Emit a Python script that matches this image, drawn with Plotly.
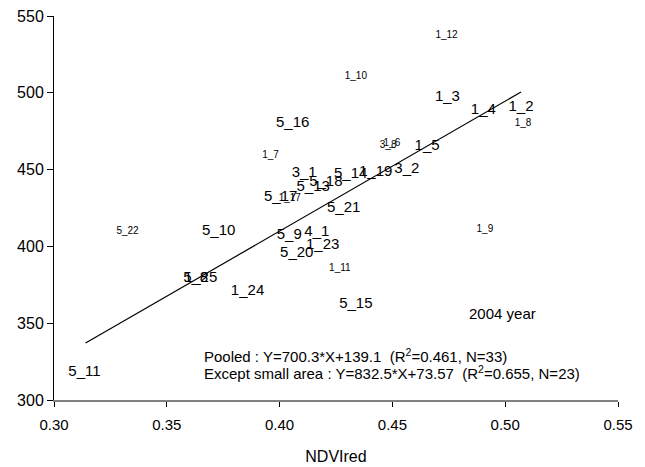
import plotly.graph_objects as go

FONT = "Liberation Sans, Arial, sans-serif"

# Large labels (sites other than small areas)
big_labels = ["1_3", "1_4", "1_2", "5_16", "1_5", "3_1", "5_14", "1_19", "3_2",
              "5_13", "5_18", "5_17", "5_21", "5_10", "5_9", "4_1", "1_23",
              "5_20", "5_8", "1_25", "1_24", "5_15", "5_11"]
big_x = [0.4744, 0.4903, 0.5070, 0.4058, 0.4654, 0.4109, 0.4315, 0.4426, 0.4564,
         0.4149, 0.4205, 0.4005, 0.4284, 0.3730, 0.4043, 0.4165, 0.4191,
         0.4076, 0.3628, 0.3650, 0.3858, 0.4338, 0.3135]
big_y = [496.8, 488.8, 490.8, 480.3, 465.4, 447.8, 447.1, 448.4, 450.4,
         438.7, 441.9, 432.2, 425.0, 410.0, 407.4, 409.4, 400.9,
         395.7, 379.4, 379.4, 371.0, 362.5, 318.2]

# Small labels (small areas)
small_labels = ["1_12", "1_10", "1_8", "3_8", "1_6", "1_7", "1_17", "5_22", "1_9", "1_11"]
small_x = [0.4740, 0.4338, 0.5079, 0.4481, 0.4498, 0.3960, 0.4045, 0.3326, 0.4910, 0.4267]
small_y = [537.6, 510.3, 480.3, 465.4, 466.7, 459.5, 431.5, 410.0, 410.7, 385.3]

# Regression line end points
line_x = [0.3140, 0.5070]
line_y = [337.1, 500.5]

x_ticks = [0.30, 0.35, 0.40, 0.45, 0.50, 0.55]
x_tick_labels = ["0.30", "0.35", "0.40", "0.45", "0.50", "0.55"]
y_ticks = [300, 350, 400, 450, 500, 550]

fig = go.Figure()
fig.add_trace(go.Scatter(x=line_x, y=line_y, mode="lines", xaxis="x2", yaxis="y",
                         line=dict(color="black", width=1.2), showlegend=False,
                         hoverinfo="skip"))
fig.add_trace(go.Scatter(x=big_x, y=big_y, text=big_labels, mode="text",
                         textposition="middle center",
                         textfont=dict(family=FONT, size=15, color="black"),
                         showlegend=False))
fig.add_trace(go.Scatter(x=small_x, y=small_y, text=small_labels, mode="text",
                         textposition="middle center",
                         textfont=dict(family=FONT, size=10, color="black"),
                         showlegend=False))

fig.add_annotation(x=0.3654, y=329.3, xref="x", yref="y", xanchor="left", yanchor="middle",
                   text="Pooled : Y=700.3*X+139.1  (R<sup>2</sup>=0.461, N=33)",
                   showarrow=False, font=dict(family=FONT, size=15, color="black"))
fig.add_annotation(x=0.3654, y=317.6, xref="x", yref="y", xanchor="left", yanchor="middle",
                   text="Except small area : Y=832.5*X+73.57  (R<sup>2</sup>=0.655, N=23)",
                   showarrow=False, font=dict(family=FONT, size=15, color="black"))
fig.add_annotation(x=0.4830, y=356.6, xref="x", yref="y", xanchor="left", yanchor="middle",
                   text="2004 year", showarrow=False,
                   font=dict(family=FONT, size=15, color="black"))

fig.update_layout(
    width=645, height=467,
    margin=dict(l=54, r=27, t=16, b=67, autoexpand=False),
    paper_bgcolor="white", plot_bgcolor="white",
    font=dict(family=FONT, size=15, color="black"),
    xaxis=dict(range=[0.30, 0.55], tickvals=x_ticks, showticklabels=False,
               showgrid=False, zeroline=False, showline=True, linecolor="#808080",
               linewidth=2, ticks="outside", ticklen=5, tickcolor="black"),
    xaxis2=dict(range=[0.30, 0.55], overlaying="x", anchor="y", side="bottom",
                tickvals=x_ticks, ticktext=x_tick_labels,
                showgrid=False, zeroline=False, showline=False,
                ticks="outside", ticklen=11, tickcolor="rgba(0,0,0,0)",
                tickfont=dict(size=15),
                title=dict(text="NDVIred", font=dict(size=16), standoff=18)),
    yaxis=dict(range=[300, 550], tickvals=y_ticks, showgrid=False, zeroline=False,
               showline=True, linecolor="black", linewidth=1, ticks="outside",
               ticklen=6, tickcolor="black", tickfont=dict(size=16)),
)

fig.write_html("out.html", config={"displayModeBar": False},
               post_script="document.body.style.margin='0';document.body.style.overflow='hidden';")
